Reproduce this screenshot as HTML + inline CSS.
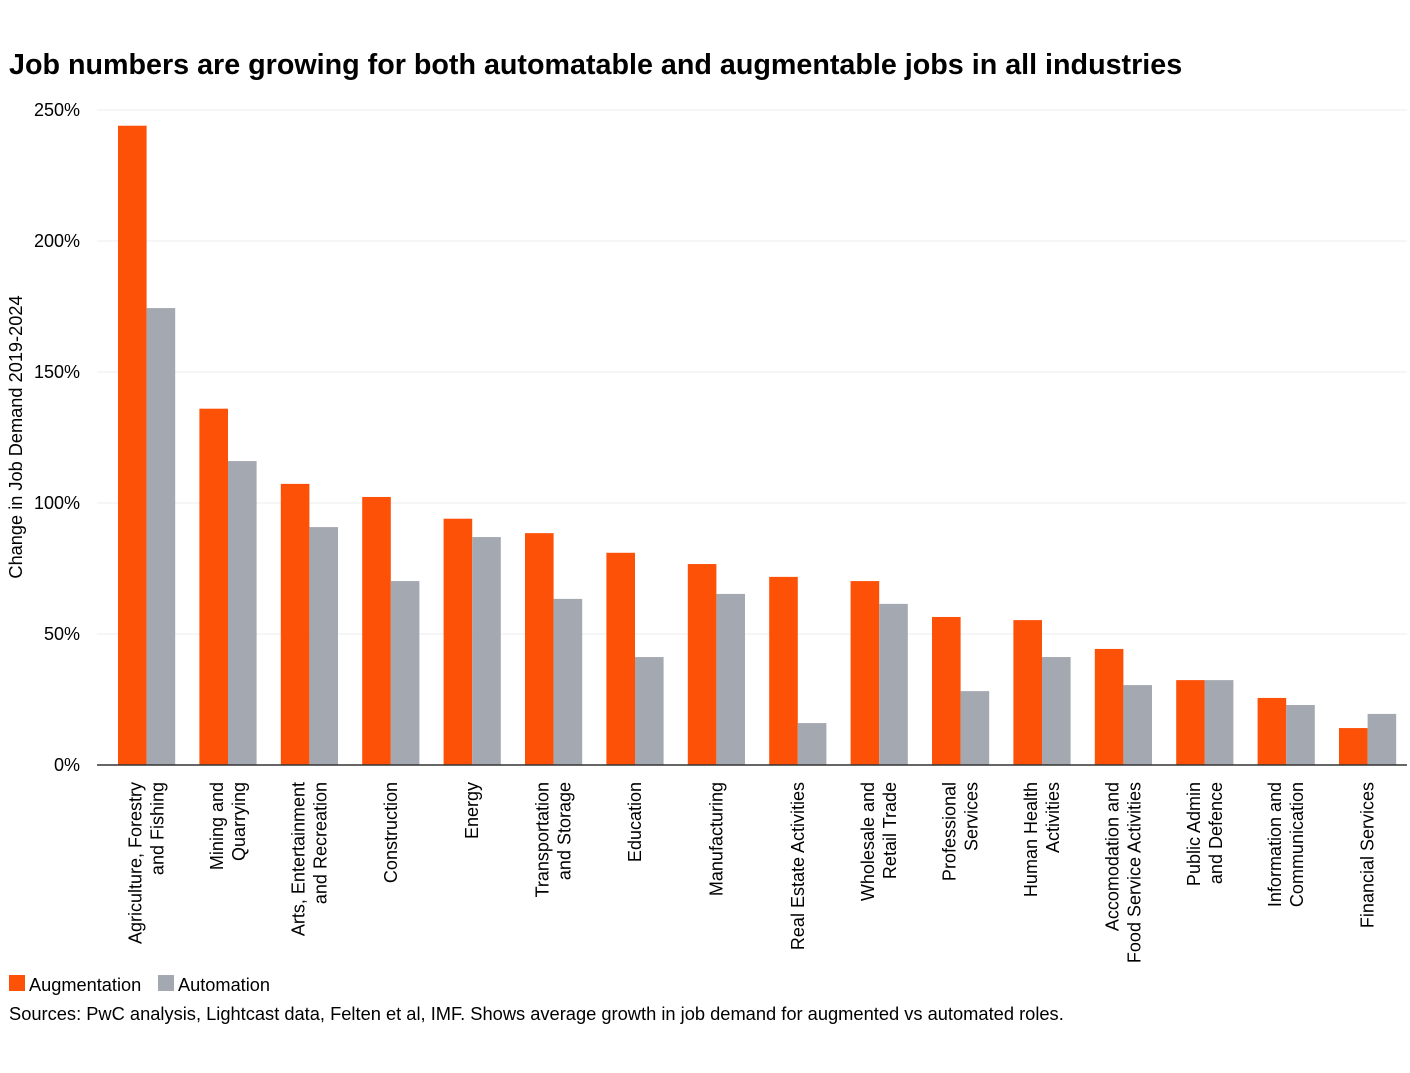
<!DOCTYPE html>
<html><head><meta charset="utf-8"><style>
body{margin:0;background:#fff;font-family:"Liberation Sans",Arial,sans-serif}
</style></head><body>
<svg width="1410" height="1068" xmlns="http://www.w3.org/2000/svg" font-family="Liberation Sans, Arial, sans-serif">
<text x="9" y="74" font-size="28.7" font-weight="bold" fill="#000">Job numbers are growing for both automatable and augmentable jobs in all industries</text>
<g id="grid"></g><g id="bars"></g><g id="xlabels"></g>
<text transform="translate(22,437) rotate(-90)" text-anchor="middle" font-size="18.2" fill="#000">Change in Job Demand 2019-2024</text>
<rect x="9" y="975" width="16" height="16" fill="#fd5108"/>
<text x="29" y="991" font-size="18.2">Augmentation</text>
<rect x="158" y="975" width="16" height="16" fill="#a4a8b1"/>
<text x="178" y="991" font-size="18.2">Automation</text>
<text x="9" y="1020" font-size="18.3">Sources: PwC analysis, Lightcast data, Felten et al, IMF. Shows average growth in job demand for augmented vs automated roles.</text>
</svg>
<script>
const categories=[["Agriculture, Forestry","and Fishing"],["Mining and","Quarrying"],["Arts, Entertainment","and Recreation"],["Construction"],["Energy"],["Transportation","and Storage"],["Education"],["Manufacturing"],["Real Estate Activities"],["Wholesale and","Retail Trade"],["Professional","Services"],["Human Health","Activities"],["Accomodation and","Food Service Activities"],["Public Admin","and Defence"],["Information and","Communication"],["Financial Services"]];
const augmentation=[244,136,107.3,102.3,94,88.5,81,76.7,71.8,70.2,56.5,55.3,44.3,32.4,25.6,14.1];
const automation=[174.4,116,90.8,70.2,87,63.4,41.2,65.3,16,61.5,28.2,41.2,30.5,32.4,22.9,19.5];
const yTicks=[0,50,100,150,200,250];
const NS="http://www.w3.org/2000/svg";
const y0=765,yScale=v=>y0-v*2.62;
const xGroup=i=>118+i*81.4;const bw=28.6;
function mk(t,a,p){const e=document.createElementNS(NS,t);for(const k in a)e.setAttribute(k,a[k]);p.appendChild(e);return e;}
const grid=document.getElementById('grid'),bars=document.getElementById('bars'),xl=document.getElementById('xlabels');
yTicks.forEach(v=>{
 if(v>0){const l=mk('line',{x1:97,x2:1407,y1:yScale(v),y2:yScale(v),stroke:'#ececec','stroke-width':1},grid);
 
 }
 const t=mk('text',{x:80,y:yScale(v)+6,'text-anchor':'end','font-size':18},grid);t.textContent=v+'%';
 
 
});
categories.forEach((c,i)=>{
 const x=xGroup(i);
 const a=mk('rect',{x:x,y:yScale(augmentation[i]),width:bw,height:augmentation[i]*2.62,fill:'#fd5108'},bars);
 
 
 const b=mk('rect',{x:x+bw,y:yScale(automation[i]),width:bw,height:automation[i]*2.62,fill:'#a4a8b1'},bars);
 
 
 const cx=x+bw;
 const n=c.length;
 c.forEach((line,j)=>{
  const lx=cx+(j-(n-1)/2)*22+6;
  const t=mk('text',{transform:`translate(${lx},782) rotate(-90)`,'text-anchor':'end','font-size':18},xl);
  t.textContent=line;
  
  
 });
});
const ax=mk('line',{x1:97,x2:1407,y1:y0,y2:y0,stroke:'#333','stroke-width':1.5},bars);


</script>
</body></html>
